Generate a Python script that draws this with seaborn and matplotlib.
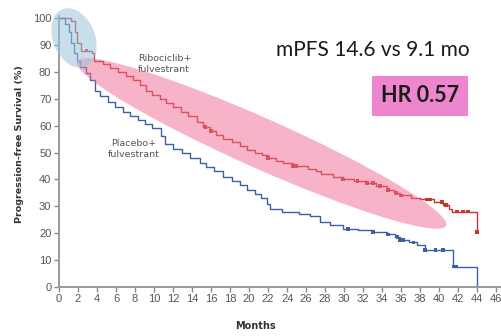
import numpy as np
import pandas as pd
import matplotlib
matplotlib.use("Agg")
import matplotlib.pyplot as plt
from matplotlib.patches import Ellipse
from matplotlib.transforms import IdentityTransform
import seaborn as sns

# ---- data ----
ribo_t = [0, 1.3, 1.7, 1.9, 2.3, 3.5, 3.7, 4.6, 5.4, 6.2, 7.0, 7.8, 8.5, 9.2, 9.8,
          10.6, 11.3, 12.0, 12.8, 13.6, 14.5, 15.2, 15.9, 16.5, 17.3, 18.2, 19.0,
          19.8, 20.6, 21.4, 22.0, 22.8, 23.6, 24.6, 26.2, 27.0, 27.6, 28.8, 29.9,
          31.0, 32.4, 33.4, 34.5, 35.2, 35.9, 37.0, 38.0, 39.4, 40.4, 41.0, 41.3, 44.0]
ribo_s = [100, 99, 95, 91, 88, 87, 84, 83, 81.5, 80, 78.5, 77, 75, 73, 71.5,
          70, 68.5, 67, 65, 63.5, 61.5, 59.5, 58, 56.5, 55, 54, 52.5,
          51, 50, 49, 48, 47, 46, 45, 44, 43, 42, 41, 40,
          39.5, 38.7, 37.5, 36, 35, 34, 33, 32.5, 31.6, 30.5, 29, 28, 20.5]
plac_t = [0, 0.6, 1.0, 1.3, 1.6, 1.9, 2.2, 2.8, 3.3, 3.8, 4.3, 5.2, 5.9, 6.7, 7.5,
          8.3, 9.0, 9.8, 10.7, 11.2, 12.0, 12.9, 13.8, 14.8, 15.5, 16.3, 17.3, 18.2,
          19.0, 19.8, 20.6, 21.3, 21.9, 22.2, 23.5, 25.2, 26.4, 27.5, 28.5, 29.9,
          31.5, 33.0, 34.5, 35.3, 35.9, 36.8, 37.7, 38.5, 41.4, 44.0]
plac_s = [100, 98, 95, 91, 87, 84, 82, 79.5, 77, 73, 71, 69, 67, 65, 63.5,
          62, 60.5, 59, 56, 53, 51.5, 50, 48, 46, 44.5, 43, 41, 39.5,
          38, 36, 34.5, 33, 31, 29, 28, 27, 26.5, 24, 23, 21.5,
          21, 20.5, 19.5, 18.5, 17.5, 16.5, 15.5, 13.7, 7.5, 0]
ribo_cens = [2.9, 15.4, 16.0, 22.0, 24.6, 25.0, 29.9, 31.4, 32.4, 33.0, 33.8, 34.6,
             35.5, 36.0, 38.7, 39.1, 40.3, 40.7, 41.9, 42.5, 43.0, 44.0]
plac_cens = [30.4, 33.0, 34.6, 35.6, 35.9, 36.2, 37.3, 38.5, 39.6, 40.4, 41.5, 41.8]
arms = ["Ribociclib+\nfulvestrant", "Placebo+\nfulvestrant"]
x_ticks = list(range(0, 47, 2))
y_ticks = list(range(0, 101, 10))
stat_text = "mPFS 14.6 vs 9.1 mo"
hr_text = "HR 0.57"

RED = "#c8352c"
BLUE = "#3d5fa6"

sns.set_theme(style="white")
plt.rcParams["font.family"] = ["DejaVu Sans"]
NARROW = ["Liberation Sans Narrow", "Liberation Sans", "DejaVu Sans"]

df = pd.concat([
    pd.DataFrame({"t": ribo_t, "s": ribo_s, "arm": arms[0]}),
    pd.DataFrame({"t": plac_t, "s": plac_s, "arm": arms[1]}),
], ignore_index=True)


def surv_at(ts, ss, times):
    idx = np.searchsorted(np.array(ts), np.array(times), side="right") - 1
    return np.array(ss)[idx]

cens = pd.concat([
    pd.DataFrame({"t": ribo_cens, "s": surv_at(ribo_t, ribo_s, ribo_cens), "arm": arms[0]}),
    pd.DataFrame({"t": plac_cens, "s": surv_at(plac_t, plac_s, plac_cens), "arm": arms[1]}),
], ignore_index=True)

fig = plt.figure(figsize=(5.01, 3.36), dpi=100)
W, H = 501, 336
ax = fig.add_axes([59 / W, 49.3 / H, 442 / W, 271 / H])

pal = {arms[0]: RED, arms[1]: BLUE}
sns.lineplot(data=df, x="t", y="s", hue="arm", palette=pal, estimator=None,
             sort=False, drawstyle="steps-post", linewidth=1.0, legend=False, ax=ax)
sns.scatterplot(data=cens, x="t", y="s", hue="arm", palette=pal, marker="s", s=7,
                linewidth=0, legend=False, ax=ax)

ax.set_xlim(0, 46.5)
ax.set_ylim(0, 101)
ax.set_xticks(x_ticks)
ax.set_yticks(y_ticks)
ax.set_xticklabels([str(v) for v in x_ticks], family=NARROW)
ax.set_yticklabels([str(v) for v in y_ticks], family=NARROW)
ax.tick_params(axis="both", which="major", direction="out", length=3.5, width=1,
               color="#8a8a8a", labelsize=8, labelcolor="#555555", pad=2,
               bottom=True, left=True)
for sp in ["top", "right"]:
    ax.spines[sp].set_visible(False)
for sp in ["left", "bottom"]:
    ax.spines[sp].set_color("#9a9a9a")
    ax.spines[sp].set_linewidth(1.4)
ax.set_xlabel("")
ax.set_ylabel("")
ax.grid(False)

# axis titles
fig.text(20 / W, 1 - 144 / H, "Progression-free Survival (%)", rotation=90,
         ha="center", va="center", fontsize=6.8, fontweight="bold", color="#333333")
fig.text(255 / W, 1 - 326 / H, "Months", ha="center", va="center", fontsize=7,
         fontweight="bold", color="#333333")

# curve labels
ax.text(8.3, 83, arms[0], fontsize=6.8, color="#555555", ha="left", va="center",
        linespacing=1.3)
ax.text(7.9, 51.3, arms[1], fontsize=6.8, color="#555555", ha="center", va="center",
        linespacing=1.3)

# annotation ellipses (drawn in pixel space)
pink = Ellipse((261.5, H - 143.5), width=404, height=50, angle=-24,
               facecolor="#f06a92", alpha=0.5, edgecolor="none",
               transform=IdentityTransform(), zorder=5)
fig.add_artist(pink)
blue = Ellipse((74, H - 38), width=42, height=62, angle=22,
               facecolor="#9cc4dc", alpha=0.55, edgecolor="none",
               transform=IdentityTransform(), zorder=5)
fig.add_artist(blue)

# stats text
fig.text(373 / W, 1 - 50 / H, stat_text, ha="center", va="center", fontsize=15,
         color="#1a1a1a", family=["Lato", "DejaVu Sans"])
fig.text(420 / W, 1 - 96 / H, hr_text, ha="center", va="center", fontsize=15.5,
         fontweight="bold", color="#1a1a1a", family=["Lato", "DejaVu Sans"],
         bbox=dict(boxstyle="square,pad=0.42", facecolor="#ee86cf", edgecolor="none"))

fig.savefig("out.png", dpi=100)
